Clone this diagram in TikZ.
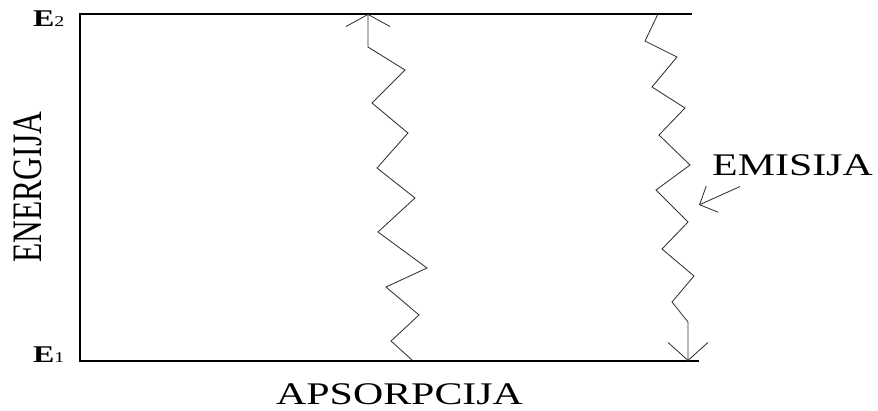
\documentclass[tikz,border=0pt]{standalone}
\usepackage{fontspec}
\setmainfont{Liberation Serif}
\usepackage{graphicx}
\usetikzlibrary{arrows.meta,calc}
\newcommand{\wide}[1]{\scalebox{1.33}[1]{#1}}
\newcommand{\tall}[1]{\scalebox{1}[1.33]{#1}}

\begin{document}
\begin{tikzpicture}[x=1pt, y=-1pt,
    axis/.style={line width=1.2pt},
    zig/.style={line width=0.85pt, black!80},
    big/.style={font=\fontsize{31.5}{34}\selectfont, inner sep=0pt},
    level/.style={inner sep=0pt, anchor=base west}]
    \useasboundingbox (0,0) rectangle (878,410);

    % axes
    \coordinate (top) at (80,14);
    \coordinate (orig) at (80,361);
    \draw[axis] (692,14) -- (top) -- (orig) -- (699,361);

    % levels
    \node[level] (e2) at (33,26) {\fontsize{24}{24}\selectfont\wide{\textbf{E}}\fontsize{15}{15}\selectfont\wide{2}};
    \node[level] (e1) at (33,362) {\fontsize{24}{24}\selectfont\wide{\textbf{E}}\fontsize{15}{15}\selectfont\wide{1}};

    % labels
    \node[big, rotate=90] (energija) at (27.5,187) {\tall{ENERGIJA}};
    \node[big, anchor=base west] (apsorpcija) at (276,404) {\wide{APSORPCIJA}};
    \node[big, anchor=base west] (emisija) at (712,175) {\wide{EMISIJA}};

    % absorption
    \coordinate (abot) at (412,360);
    \coordinate (atop) at (368,14);
    \draw[zig, -{Straight Barb[length=12pt, width=44pt]}] (abot) -- (391,341) -- (419,315)
        -- (386,287) -- (427,268) -- (378,232) -- (415,198) -- (377,168)
        -- (408,133) -- (372,103) -- (405,70) -- (368,47) -- (atop);

    % emission
    \coordinate (etop) at (658,14);
    \coordinate (ebot) at (688,361);
    \draw[zig, -{Straight Barb[length=18pt, width=40pt]}] (etop) -- (645,41) -- (677,57)
        -- (652,87) -- (685,108) -- (659,135) -- (690,165) -- (656,190)
        -- (688,222) -- (662,249) -- (694,276) -- (672,302) -- (688,322) -- (ebot);

    % pointer
    \coordinate (tail) at ($(emisija.south west)+(28,11)$);
    \coordinate (pointer) at (699,205);
    \draw[zig, -{Straight Barb[length=14pt, width=29pt]}] (tail) -- (pointer);
\end{tikzpicture}
\end{document}
